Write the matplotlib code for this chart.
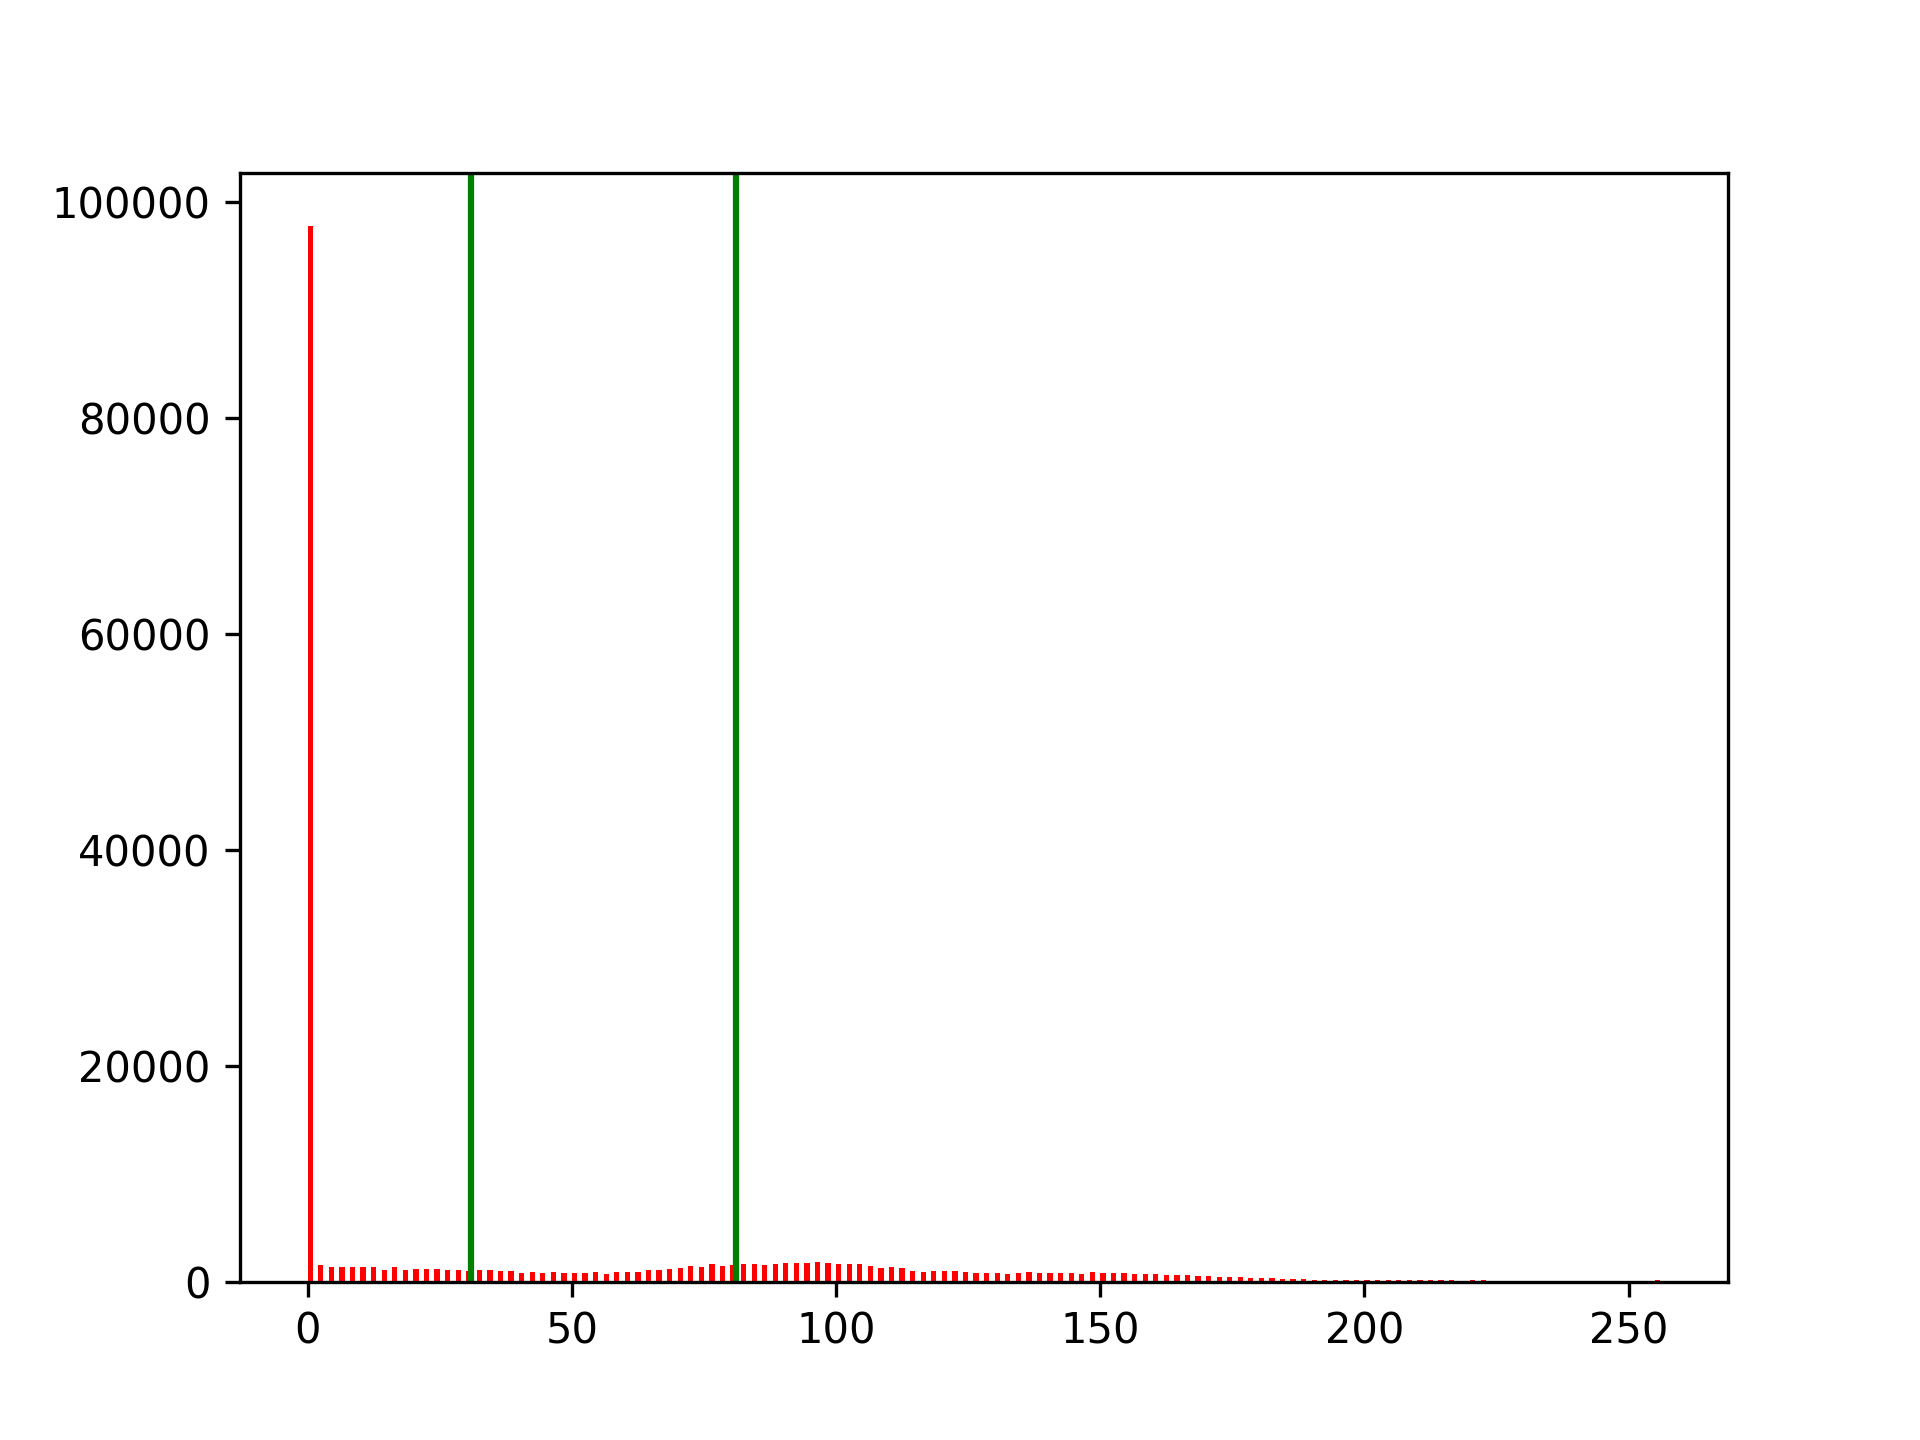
import numpy as np
import matplotlib
matplotlib.use("Agg")
import matplotlib.pyplot as plt

# Pixel intensity values (histogram bins) and their counts
intensity = [0, 2, 4, 6, 8, 10, 12, 14, 16, 18, 20, 22, 24, 26, 28, 30,
             32, 34, 36, 38, 40, 42, 44, 46, 48, 50, 52, 54, 56, 58, 60, 62,
             64, 66, 68, 70, 72, 74, 76, 78, 80, 82, 84, 86, 88, 90, 92, 94,
             96, 98, 100, 102, 104, 106, 108, 110, 112, 114, 116, 118, 120, 122, 124, 126,
             128, 130, 132, 134, 136, 138, 140, 142, 144, 146, 148, 150, 152, 154, 156, 158,
             160, 162, 164, 166, 168, 170, 172, 174, 176, 178, 180, 182, 184, 186, 188, 190,
             192, 194, 196, 198, 200, 202, 204, 206, 208, 210, 212, 214, 216, 220, 222, 255]
counts = [97800, 1510, 1390, 1390, 1390, 1390, 1390, 1110, 1390, 1110, 1200, 1200, 1200, 1110, 1110, 1020,
          1110, 1110, 1020, 1020, 830, 930, 830, 930, 830, 830, 830, 930, 740, 930, 930, 930,
          1110, 1110, 1200, 1300, 1480, 1390, 1670, 1480, 1570, 1670, 1670, 1570, 1670, 1760, 1760, 1760,
          1850, 1760, 1670, 1670, 1670, 1480, 1300, 1390, 1300, 1020, 930, 1020, 1020, 1020, 930, 830,
          830, 830, 740, 830, 930, 830, 830, 830, 830, 740, 930, 830, 830, 830, 740, 740,
          740, 650, 650, 650, 560, 560, 460, 460, 460, 370, 370, 370, 280, 280, 280, 190,
          190, 190, 190, 190, 190, 150, 150, 150, 150, 150, 150, 150, 150, 150, 150, 150]

# Threshold lines
thresholds = [31.0, 81.0]

fig = plt.figure(figsize=(6.4, 4.8), dpi=300)
ax = fig.add_subplot(111)
ax.hist(intensity, bins=256, range=(0, 256), weights=counts, color='r')
for t in thresholds:
    ax.axvline(t, color='g', lw=1.5)

fig.savefig("out.png", dpi=300)
